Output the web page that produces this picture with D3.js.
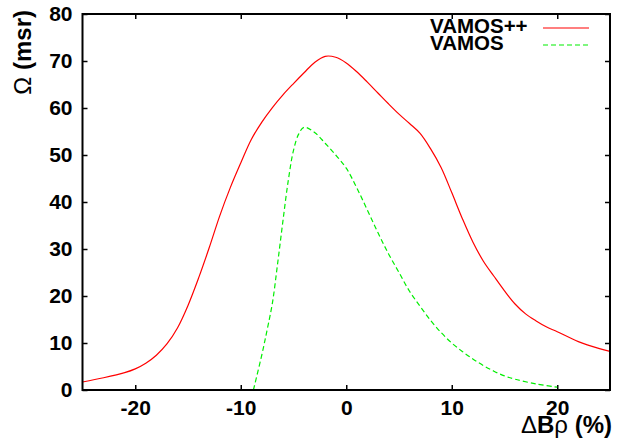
<!DOCTYPE html>
<html>
<head>
<meta charset="utf-8">
<script src="https://cdn.jsdelivr.net/npm/d3@7"></script>
<style>
  body { margin: 0; background: #fff; }
  text { font-family: "Liberation Sans", Arial, sans-serif; font-weight: bold; fill: #000; }
  .tick text { font-size: 21px; }
  .tick line { stroke: #000; stroke-width: 1.5; }
</style>
</head>
<body>
<div id="chart"></div>
<script>
// chart data
const x_ticks = [-20, -10, 0, 10, 20];
const y_ticks = [0, 10, 20, 30, 40, 50, 60, 70, 80];

// VAMOS++ acceptance vs momentum deviation
const vamos_pp_x = [-25, -23, -21, -20, -19, -18, -17, -16, -15, -14, -13, -12, -11, -10, -9, -8, -7, -6, -5, -4, -3, -2,
    -1, 0, 1, 2, 3, 4, 5, 6, 7, 8, 9, 10, 11, 12, 13, 14, 15, 16, 17, 18, 19, 20, 22, 24, 25];
const vamos_pp_y = [1.7, 2.6, 3.7, 4.5, 5.7, 7.4, 9.8, 13.2, 18, 23.8, 30.2, 37, 43, 48.3, 53.3, 57, 60.1, 62.8, 65.2, 67.5, 69.7, 71,
    70.8, 69.6, 67.7, 65.5, 63.2, 60.9, 58.7, 56.7, 54.6, 51.3, 47.3, 42, 36.5, 31.5, 27.4, 24.2, 21.1, 18.3, 16.2, 14.7, 13.4, 12.4, 10.3, 8.8, 8.2];

// VAMOS acceptance
const vamos_x = [-8.8, -8, -7.5, -7, -6.5, -6, -5.5, -5, -4.5, -4, -3, -2, -1, 0, 1, 2, 3, 4, 5, 6, 7, 8, 9, 10,
    11, 12, 13, 14, 15, 16, 18, 20];
const vamos_y = [0, 7.5, 12.8, 18.5, 27, 36, 44.5, 51, 54.5, 55.9, 54.8, 52.5, 50, 47.2, 43, 38.3, 33.5, 29, 25, 21, 17.8, 14.8, 12.2, 10,
    8.2, 6.6, 5.2, 4, 3, 2.3, 1.3, 0.6];

const width = 620, height = 440;
const margin = {left: 82.5, right: 10, top: 14, bottom: 50};

const svg = d3.select("#chart").append("svg")
    .attr("width", width)
    .attr("height", height);

const x_scale = d3.scaleLinear().domain([-25, 25]).range([margin.left, width - margin.right]);
const y_scale = d3.scaleLinear().domain([0, 80]).range([height - margin.bottom, margin.top]);

// plain hyphen for negatives, like the original
const fmt = d => String(d);

// axes with inward ticks
svg.append("g")
    .attr("transform", "translate(0," + (height - margin.bottom) + ")")
    .call(d3.axisBottom(x_scale).tickValues(x_ticks).tickSize(-5).tickPadding(10).tickFormat(fmt))
    .call(g => g.select(".domain").remove());

svg.append("g")
    .attr("transform", "translate(" + margin.left + ",0)")
    .call(d3.axisLeft(y_scale).tickValues(y_ticks).tickSize(-5).tickPadding(10).tickFormat(fmt))
    .call(g => g.select(".domain").remove());

// mirrored ticks on top and right
svg.append("g")
    .attr("transform", "translate(0," + margin.top + ")")
    .call(d3.axisTop(x_scale).tickValues(x_ticks).tickSize(-5).tickFormat(""))
    .call(g => g.select(".domain").remove());

svg.append("g")
    .attr("transform", "translate(" + (width - margin.right) + ",0)")
    .call(d3.axisRight(y_scale).tickValues(y_ticks).tickSize(-5).tickFormat(""))
    .call(g => g.select(".domain").remove());

// curves
svg.append("clipPath").attr("id", "plot_clip")
    .append("rect")
        .attr("x", x_scale(-25))
        .attr("y", y_scale(80))
        .attr("width", x_scale(25) - x_scale(-25))
        .attr("height", y_scale(0) - y_scale(80));

const line = d3.line()
    .x(d => x_scale(d[0]))
    .y(d => y_scale(d[1]))
    .curve(d3.curveCatmullRom.alpha(0.5));

svg.append("path")
    .datum(d3.zip(vamos_pp_x, vamos_pp_y))
    .attr("clip-path", "url(#plot_clip)")
    .attr("d", line)
    .style("fill", "none")
    .style("stroke", "#ff0000")
    .style("stroke-width", 1.2);

svg.append("path")
    .datum(d3.zip(vamos_x, vamos_y))
    .attr("clip-path", "url(#plot_clip)")
    .attr("d", line)
    .style("fill", "none")
    .style("stroke", "#00ee00")
    .style("stroke-width", 1.2)
    .style("stroke-dasharray", "5,3");

// frame
svg.append("rect")
    .attr("x", x_scale(-25))
    .attr("y", y_scale(80))
    .attr("width", x_scale(25) - x_scale(-25))
    .attr("height", y_scale(0) - y_scale(80))
    .style("fill", "none")
    .style("stroke", "#000")
    .style("stroke-width", 2);

// legend
const legend = [
    {label: "VAMOS++", color: "#ff0000", dash: null},
    {label: "VAMOS", color: "#00ee00", dash: "5,3"}
];
legend.forEach((d, i) => {
    const y = 33 + i * 17;
    svg.append("text")
        .attr("x", 430)
        .attr("y", y)
        .style("font-size", "20.5px")
        .text(d.label);
    svg.append("line")
        .attr("x1", 543).attr("x2", 589)
        .attr("y1", y - 5).attr("y2", y - 5)
        .style("stroke", d.color)
        .style("stroke-width", 1.2)
        .style("stroke-dasharray", d.dash);
});

// axis labels
const x_label = svg.append("text")
    .attr("x", 612)
    .attr("y", 433)
    .style("text-anchor", "end")
    .style("font-size", "24px");
x_label.append("tspan").style("font-weight", "normal").text("Δ");
x_label.append("tspan").text("B");
x_label.append("tspan").style("font-weight", "normal").text("ρ");
x_label.append("tspan").text(" (%)");

const y_label = svg.append("text")
    .attr("transform", "translate(31,10) rotate(-90)")
    .style("text-anchor", "end")
    .style("font-size", "24px");
y_label.append("tspan").style("font-weight", "normal").text("Ω");
y_label.append("tspan").text(" (msr)");
</script>
</body>
</html>
